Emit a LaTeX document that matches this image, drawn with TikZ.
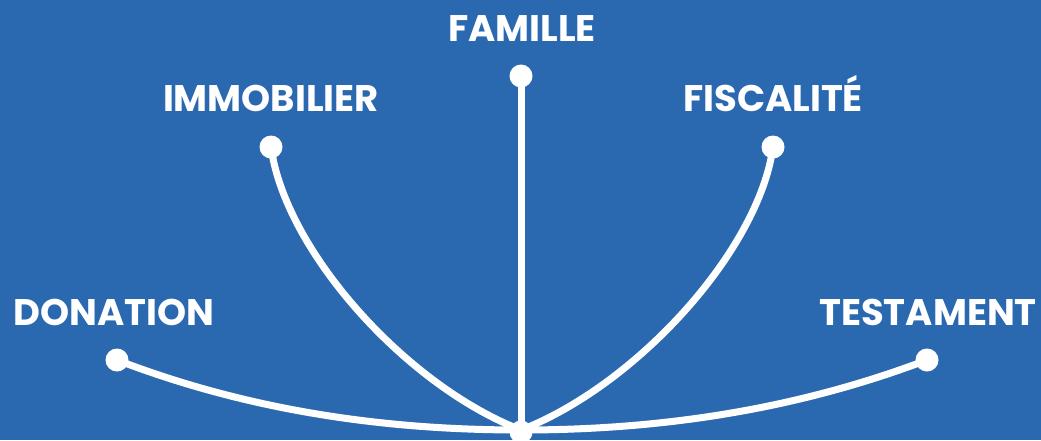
\documentclass[tikz,border=0pt]{standalone}
\usepackage{fontspec}
\setmainfont{Poppins}[BoldFont={* Bold}]
\definecolor{bg}{HTML}{2A69B0}
\begin{document}
\begin{tikzpicture}[x=1pt,y=-1pt,
  link/.style={draw=white,line width=7pt},
  dot/.style={circle,fill=white,inner sep=0pt,minimum size=23pt},
  lab/.style={text=white,font=\fontsize{37}{37}\selectfont\bfseries,inner sep=0pt,anchor=base}]
\fill[bg] (0,0) rectangle (1041,440);
\useasboundingbox (0,0) rectangle (1041,440);
\coordinate (c) at (521,430);
\node[dot] (d1) at (117,360) {};
\node[dot] (d2) at (271,147) {};
\node[dot] (d3) at (521,76) {};
\node[dot] (d4) at (773,147) {};
\node[dot] (d5) at (927,360) {};
\node[dot] (dc) at (521,432) {};
\draw[link] (d1.center) .. controls (260,415) and (400,430) .. (c);
\draw[link] (d2.center) .. controls (285,250) and (405,385) .. (c);
\draw[link] (d3.center) -- (c);
\draw[link] (d4.center) .. controls (759,250) and (637,385) .. (c);
\draw[link] (d5.center) .. controls (782,415) and (642,430) .. (c);
\node[lab] (t1) at (114,325) {DONATION};
\node[lab] (t2) at (271,111) {IMMOBILIER};
\node[lab] (t3) at (522,41) {FAMILLE};
\node[lab] (t4) at (773,111) {FISCALITÉ};
\node[lab] (t5) at (928,325) {TESTAMENT};
\end{tikzpicture}
\end{document}
